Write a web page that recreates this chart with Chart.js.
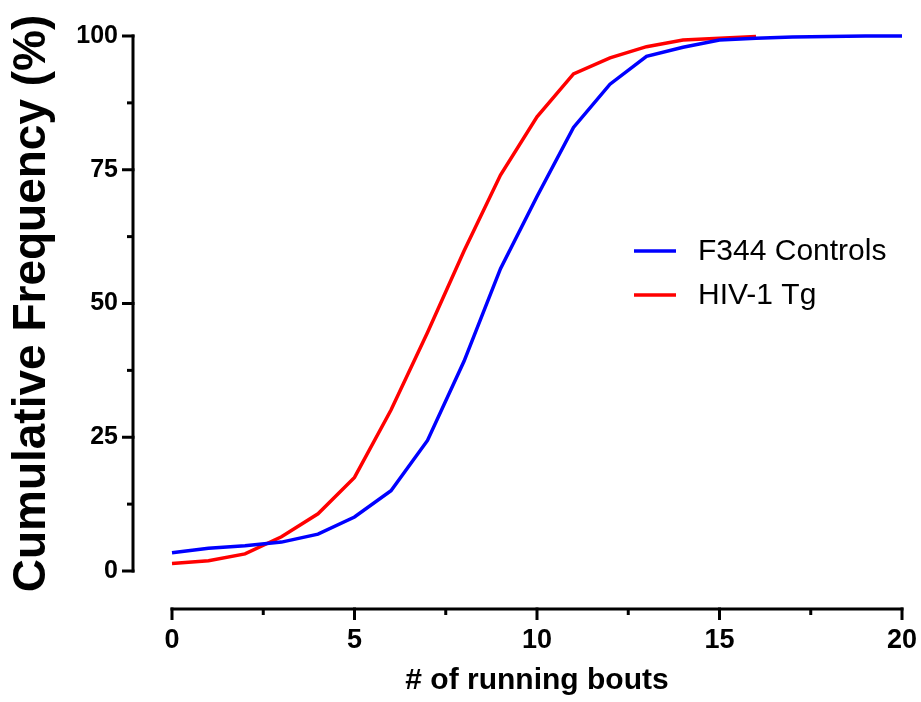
<!DOCTYPE html>
<html>
<head>
<meta charset="utf-8">
<script src="https://cdn.jsdelivr.net/npm/chart.js@4.4.0/dist/chart.umd.min.js"></script>
<style>
html,body{margin:0;padding:0;background:#ffffff;}
#wrap{width:921px;height:702px;}
</style>
</head>
<body>
<div id="wrap"><canvas id="c" width="921" height="702"></canvas></div>
<script>
// ---- data ----
const runningBouts = [0,1,2,3,4,5,6,7,8,9,10,11,12,13,14,15,16,17,18,19,20];
const f344Controls = [3.4,4.25,4.7,5.4,6.9,10.1,15.0,24.4,39.2,56.5,70.0,82.9,91.0,96.2,97.9,99.25,99.6,99.8,99.9,100,100];
const hiv1Tg       = [1.4,1.9,3.2,6.4,10.7,17.5,30.1,44.6,59.8,74.0,84.9,92.9,95.9,98.0,99.25,99.6,99.9];
const seriesNames  = ['F344 Controls','HIV-1 Tg'];
const seriesColors = ['#0000FF','#FF0000'];
const xTicks = [0,5,10,15,20];
const yTicks = [0,25,50,75,100];
const xTitle = '# of running bouts';
const yTitle = 'Cumulative Frequency (%)';

const FONT = '"Liberation Sans", Arial, Helvetica, sans-serif';
Chart.defaults.font.family = FONT;
Chart.defaults.color = '#000000';

function toPoints(xs, ys){ return ys.map((v,i)=>({x:xs[i], y:v})); }

// Prism-style offset axes drawn from the chart's own scales
const offsetAxes = {
  id: 'offsetAxes',
  afterDraw(chart){
    const ctx = chart.ctx, a = chart.chartArea;
    const xs = chart.scales.x, ys = chart.scales.y;
    const axX = a.left - 39, axY = a.bottom + 38;
    ctx.save();
    ctx.strokeStyle = '#000'; ctx.lineWidth = 3; ctx.lineCap = 'butt';
    // y axis line
    const yTop = ys.getPixelForValue(yTicks[yTicks.length-1]);
    const yBot = ys.getPixelForValue(yTicks[0]);
    ctx.beginPath(); ctx.moveTo(axX, yTop-1.5); ctx.lineTo(axX, yBot+1.5); ctx.stroke();
    yTicks.forEach((v,i)=>{
      const p = ys.getPixelForValue(v);
      ctx.beginPath(); ctx.moveTo(axX-11, p); ctx.lineTo(axX+1.5, p); ctx.stroke();
      if (i < yTicks.length-1){
        const m = ys.getPixelForValue((v + yTicks[i+1])/2);
        ctx.beginPath(); ctx.moveTo(axX-6, m); ctx.lineTo(axX, m); ctx.stroke();
      }
    });
    // x axis line
    const xL = xs.getPixelForValue(xTicks[0]);
    const xR = xs.getPixelForValue(xTicks[xTicks.length-1]);
    ctx.beginPath(); ctx.moveTo(xL-1.5, axY); ctx.lineTo(xR+1.5, axY); ctx.stroke();
    xTicks.forEach((v,i)=>{
      const p = xs.getPixelForValue(v);
      ctx.beginPath(); ctx.moveTo(p, axY-1.5); ctx.lineTo(p, axY+11); ctx.stroke();
      if (i < xTicks.length-1){
        const m = xs.getPixelForValue((v + xTicks[i+1])/2);
        ctx.beginPath(); ctx.moveTo(m, axY); ctx.lineTo(m, axY+6); ctx.stroke();
      }
    });
    ctx.restore();
  }
};

// Legend placed inside the plot, as in the reference
const innerLegend = {
  id: 'innerLegend',
  afterDraw(chart, args, opts){
    const ctx = chart.ctx;
    ctx.save();
    chart.data.datasets.forEach((ds,i)=>{
      const y = opts.y + i*opts.gap;
      ctx.strokeStyle = ds.borderColor; ctx.lineWidth = 3.5;
      ctx.beginPath(); ctx.moveTo(opts.x, y); ctx.lineTo(opts.x+opts.len, y); ctx.stroke();
      ctx.fillStyle = '#000';
      ctx.font = opts.font;
      ctx.textBaseline = 'middle'; ctx.textAlign = 'left';
      ctx.fillText(ds.label, opts.x+opts.len+opts.textGap, y+1);
    });
    ctx.restore();
  }
};

new Chart(document.getElementById('c'), {
  type: 'line',
  data: {
    datasets: [
      { label: seriesNames[0], data: toPoints(runningBouts, f344Controls), borderColor: seriesColors[0], backgroundColor: seriesColors[0], borderWidth: 3.5, pointRadius: 0, tension: 0, fill: false, clip: 6 },
      { label: seriesNames[1], data: toPoints(runningBouts, hiv1Tg), borderColor: seriesColors[1], backgroundColor: seriesColors[1], borderWidth: 3.5, pointRadius: 0, tension: 0, fill: false, clip: 6 }
    ]
  },
  options: {
    responsive: false,
    animation: false,
    events: [],
    layout: { padding: { left: 0, right: 19, top: 36, bottom: 0 } },
    plugins: {
      legend: { display: false },
      tooltip: { enabled: false },
      innerLegend: { x: 634, y: 251, gap: 44, len: 42, textGap: 22, font: '30px ' + FONT }
    },
    scales: {
      x: {
        type: 'linear', min: 0, max: 20,
        grid: { display: false, drawTicks: false },
        border: { display: false },
        ticks: { stepSize: 5, padding: 53, font: { size: 27, weight: 'bold' }, color: '#000', maxRotation: 0 },
        title: { display: true, text: xTitle, font: { size: 30, weight: 'bold' }, color: '#000', padding: { top: 0, bottom: 3 } },
        afterFit(s){ s.height = 131; s.paddingLeft = 0; s.paddingRight = 0; }
      },
      y: {
        type: 'linear', min: 0, max: 100,
        grid: { display: false, drawTicks: false },
        border: { display: false },
        ticks: { stepSize: 25, padding: 54, font: { size: 25, weight: 'bold' }, color: '#000' },
        title: { display: true, text: yTitle, font: { size: 46, weight: 'bold' }, color: '#000', padding: { top: 5, bottom: 0 } },
        afterFit(s){ s.width = 172; s.paddingTop = 0; s.paddingBottom = 0; }
      }
    }
  },
  plugins: [offsetAxes, innerLegend]
});
</script>
</body>
</html>
